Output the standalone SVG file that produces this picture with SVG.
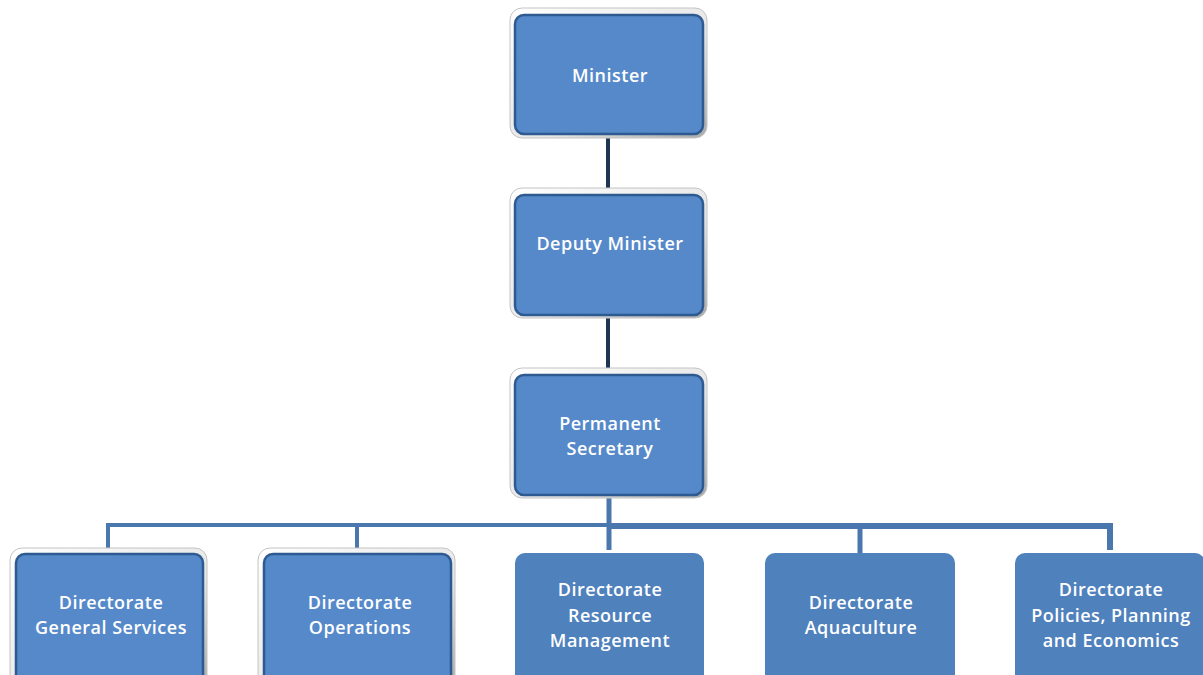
<svg xmlns="http://www.w3.org/2000/svg" width="1203" height="675" viewBox="0 0 1203 675">
<style>
.t{font-family:"Open Sans","Liberation Sans",sans-serif;font-size:18px;font-weight:600;fill:#ffffff;text-anchor:middle;letter-spacing:0.5px}
.frame{fill:url(#fr);stroke:#c4c4c4;stroke-width:1}
.inner{fill:#5689CA;stroke:#2E5A92;stroke-width:2.5}
.flat{fill:#4F81BD}
.dark{stroke:#1E3556;stroke-width:4;fill:none}
.bus{stroke:#4A77AD;fill:none}
</style>
<defs>
<linearGradient id="fr" x1="0" y1="0" x2="1" y2="1">
<stop offset="0" stop-color="#ffffff"/>
<stop offset="0.6" stop-color="#e6e6e6"/>
<stop offset="1" stop-color="#a9a9a9"/>
</linearGradient>
</defs>
<g id="connectors">
<line class="dark" x1="608" y1="136" x2="608" y2="190"/>
<line class="dark" x1="608" y1="316" x2="608" y2="370"/>
<line class="bus" stroke-width="5" x1="609" y1="496" x2="609" y2="550"/>
<polyline class="bus" stroke-width="4" points="108,550 108,525 609,525"/>
<line class="bus" stroke-width="4" x1="357" y1="525" x2="357" y2="550"/>
<polyline class="bus" stroke-width="6" points="609,526 1110,526 1110,550"/>
<line class="bus" stroke-width="5" x1="860" y1="526" x2="860" y2="553"/>
</g>
<g id="minister">
<rect class="frame" x="510" y="8" width="197" height="130" rx="12"/>
<rect class="inner" x="515" y="15" width="188" height="119" rx="9"/>
<text class="t" x="610" y="82">Minister</text>
</g>
<g id="deputy">
<rect class="frame" x="510" y="188" width="197" height="130" rx="12"/>
<rect class="inner" x="515" y="195" width="188" height="120" rx="9"/>
<text class="t" x="610" y="250">Deputy Minister</text>
</g>
<g id="secretary">
<rect class="frame" x="510" y="368" width="197" height="130" rx="12"/>
<rect class="inner" x="515" y="375" width="188" height="120" rx="9"/>
<text class="t" x="610" y="430">Permanent</text>
<text class="t" x="610" y="455">Secretary</text>
</g>
<g id="general">
<rect class="frame" x="10" y="548" width="197" height="140" rx="12"/>
<rect class="inner" x="16" y="554" width="187" height="130" rx="9"/>
<text class="t" x="111" y="609">Directorate</text>
<text class="t" x="111" y="634">General Services</text>
</g>
<g id="operations">
<rect class="frame" x="258" y="548" width="197" height="140" rx="12"/>
<rect class="inner" x="264" y="554" width="187" height="130" rx="9"/>
<text class="t" x="360" y="609">Directorate</text>
<text class="t" x="360" y="634">Operations</text>
</g>
<g id="resource">
<rect class="flat" x="515" y="553" width="189" height="140" rx="10"/>
<text class="t" x="610" y="596">Directorate</text>
<text class="t" x="610" y="622">Resource</text>
<text class="t" x="610" y="647">Management</text>
</g>
<g id="aquaculture">
<rect class="flat" x="765" y="553" width="190" height="140" rx="10"/>
<text class="t" x="861" y="609">Directorate</text>
<text class="t" x="861" y="634">Aquaculture</text>
</g>
<g id="policies">
<rect class="flat" x="1015" y="553" width="190" height="140" rx="10"/>
<text class="t" x="1111" y="596">Directorate</text>
<text class="t" x="1111" y="622">Policies, Planning</text>
<text class="t" x="1111" y="647">and Economics</text>
</g>
</svg>
